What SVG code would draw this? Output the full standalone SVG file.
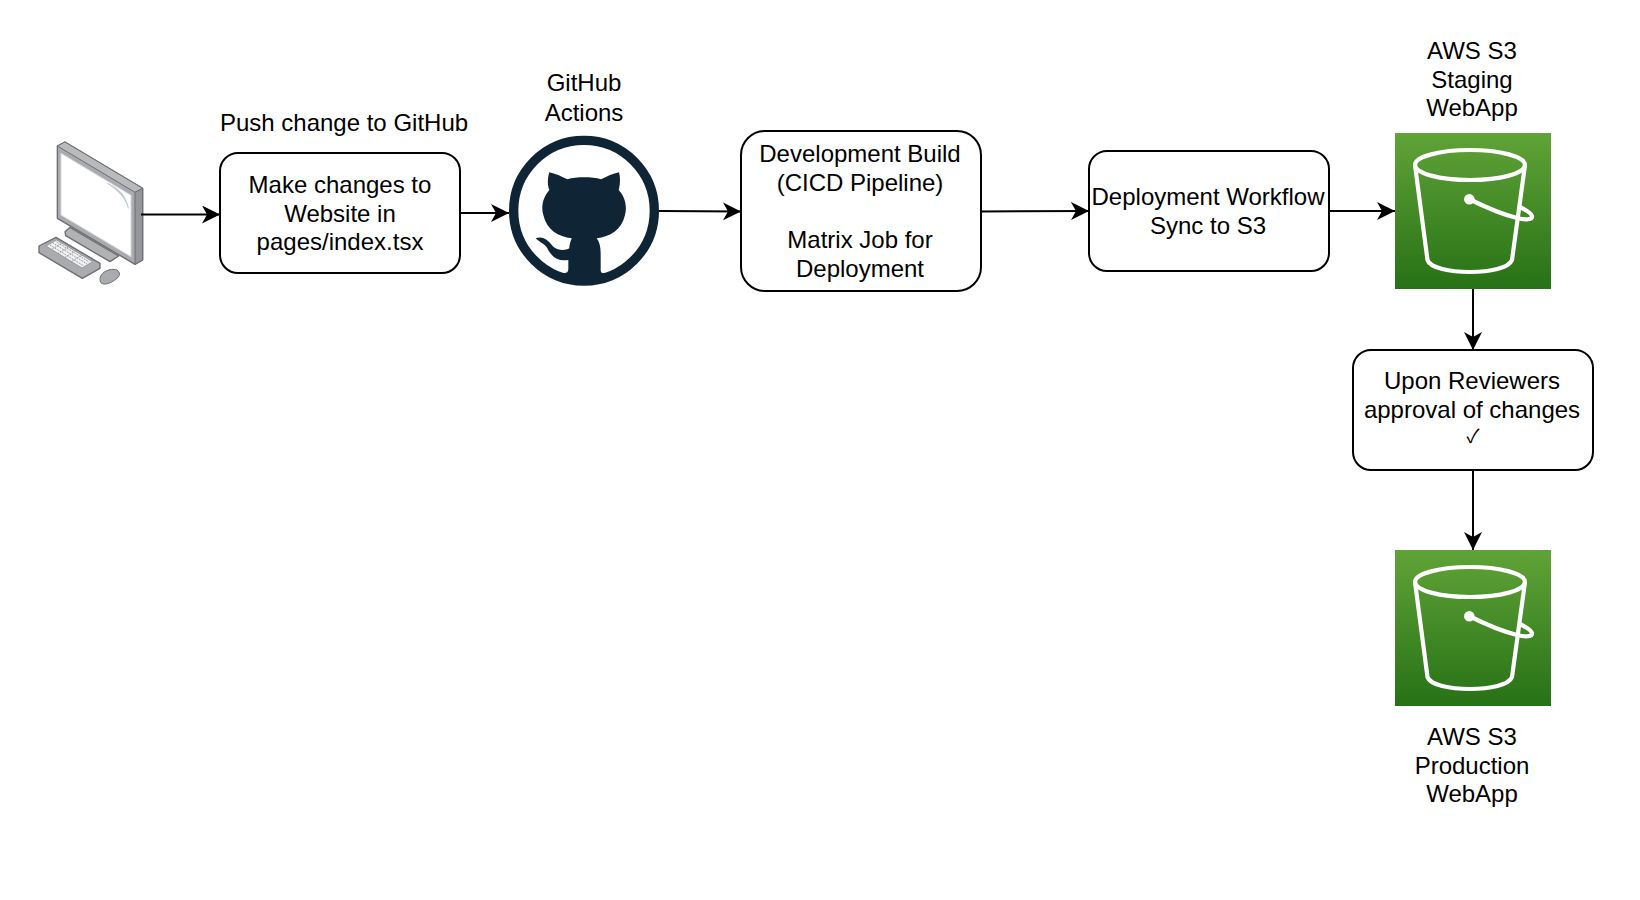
<svg xmlns="http://www.w3.org/2000/svg" width="1640" height="900" viewBox="0 0 1640 900">
<style>
.box{fill:#fff;stroke:#000;stroke-width:2}
.edge{fill:none;stroke:#000;stroke-width:2;marker-end:url(#arr)}
text{font-family:"Liberation Sans",Arial,sans-serif;font-size:24px;fill:#000;text-anchor:middle}
.b{fill:none;stroke:#fff;stroke-width:4.2}
</style>
<defs>
<marker id="arr" markerUnits="userSpaceOnUse" markerWidth="20" markerHeight="20" refX="18" refY="9" orient="auto"><path d="M0,0 L18,9 L0,18 L5,9 Z" fill="#000"/></marker>
<linearGradient id="g" x1="0" y1="0" x2="0" y2="1"><stop offset="0" stop-color="#60a337"/><stop offset="1" stop-color="#277116"/></linearGradient>
<g id="bucket">
<rect x="0" y="0" width="156" height="156" fill="url(#g)"/>
<ellipse cx="75" cy="32" rx="55" ry="15" class="b"/>
<path class="b" d="M20,32 L32.500,127 C35,135 55,139 75,139 C95,139 114,135 117,127 L130,32"/>
<circle cx="74.300" cy="66.300" r="5.300" fill="#fff"/>
<path class="b" d="M74,66 C90,74 106,81 122,85 C130,87 138,87 137,83 C136,80 131,77 125,74"/>
</g>
</defs>
<g id="computer" transform="translate(20,120) scale(.33333)">
<path d="M112,78 L135,66 L368,205 L368,420 L345,433 L112,295 Z" fill="#a9abae" stroke="#6d6e71" stroke-width="4" stroke-linejoin="round"/>
<path d="M112,78 L135,66 L368,205 L345,217 Z" fill="#b8babc" stroke="#6d6e71" stroke-width="3"/>
<path d="M345,217 L368,205 L368,420 L345,433 Z" fill="#949699" stroke="#6d6e71" stroke-width="3"/>
<path d="M123,100 L333,226 L333,410 L123,285 Z" fill="#fff" stroke="#d8dadc" stroke-width="3"/>
<path d="M262,190 C295,205 318,225 325,265 C318,235 295,212 262,190 Z" fill="#b9c6d0" stroke="#b9c6d0" stroke-width="2"/>
<path d="M135,335 L150,322 L296,408 L270,425 L137,347 Z" fill="#b0b2b4" stroke="#6d6e71" stroke-width="4" stroke-linejoin="round"/>
<path d="M57,378 L108,352 L240,430 L240,445 L187,475 L57,398 Z" fill="#a9abae" stroke="#6d6e71" stroke-width="4" stroke-linejoin="round"/>
<path d="M78,378 L110,360 L218,425 L186,444 Z" fill="#f1f1f2" stroke="#808285" stroke-width="2"/>
<path d="M90,375 L190,437 M100,370 L200,431 M110,366 L208,426 M95,388 L125,370 M115,400 L145,382 M135,412 L165,394 M155,424 L185,406" stroke="#808285" stroke-width="3" fill="none" stroke-dasharray="3 3"/>
<path d="M240,478 C240,460 262,447 282,448 C296,449 302,460 296,470 C285,482 265,494 250,492 C243,491 240,486 240,478 Z" fill="#a9abae" stroke="#6d6e71" stroke-width="3"/>
</g>
<g id="make-changes">
<rect class="box" x="220" y="153" width="240" height="120" rx="18" ry="18"/>
<text x="340" y="193">Make changes to</text>
<text x="340" y="222">Website in</text>
<text x="340" y="250">pages/index.tsx</text>
</g>
<g id="push-label"><text x="344" y="130.500">Push change to GitHub</text></g>
<g id="github-label"><text x="584" y="91">GitHub</text><text x="584" y="120.500">Actions</text></g>
<g id="github" transform="translate(490,120) scale(.33333)">
<circle cx="282" cy="272" r="211" fill="#fff" stroke="#0f2536" stroke-width="28"/>
<path fill="#0f2536" d="M178,157 C195,160 215,170 232,178 C260,170 305,170 333,178 C350,170 370,160 387,157 C392,175 390,195 386,210 C405,230 412,260 405,285 C395,330 360,350 320,355 C328,365 332,380 332,400 L332,450 C332,460 340,462 348,458 L345,480 L222,480 L218,458 C232,462 235,455 235,445 L235,420 C205,425 185,412 172,385 C165,372 150,368 137,355 C160,345 178,365 190,380 C205,392 225,392 238,385 C238,370 245,358 245,355 C205,350 170,330 160,285 C152,260 160,230 178,210 C172,195 172,175 178,157 Z"/>
</g>
<g id="dev-build">
<rect class="box" x="741" y="131" width="240" height="160" rx="24" ry="24"/>
<text x="860" y="162">Development Build</text>
<text x="860" y="191">(CICD Pipeline)</text>
<text x="860" y="248">Matrix Job for</text>
<text x="860" y="277">Deployment</text>
</g>
<g id="deploy">
<rect class="box" x="1089" y="151" width="240" height="120" rx="18" ry="18"/>
<text x="1208" y="205">Deployment Workflow</text>
<text x="1208" y="234">Sync to S3</text>
</g>
<g id="s3-staging">
<text x="1472" y="59">AWS S3</text><text x="1472" y="88">Staging</text><text x="1472" y="116">WebApp</text>
<use href="#bucket" x="1395" y="133"/>
</g>
<g id="approval">
<rect class="box" x="1353" y="350" width="240" height="120" rx="18" ry="18"/>
<text x="1472" y="389">Upon Reviewers</text>
<text x="1472" y="418">approval of changes</text>
<text x="1473" y="443" style="font-family:'Noto Sans CJK SC','DejaVu Sans',sans-serif;font-size:19px">✓</text>
</g>
<g id="s3-production">
<use href="#bucket" x="1395" y="550"/>
<text x="1472" y="745">AWS S3</text><text x="1472" y="774">Production</text><text x="1472" y="802">WebApp</text>
</g>
<g id="edges">
<path class="edge" d="M141,214.500 L220,214.500"/>
<path class="edge" d="M460,213 L509,213"/>
<path class="edge" d="M659,211 L741,211.500"/>
<path class="edge" d="M981,211.500 L1089,211"/>
<path class="edge" d="M1329,211 L1395,211"/>
<path class="edge" d="M1473,289 L1473,350"/>
<path class="edge" d="M1473,470 L1473,550"/>
</g>
</svg>
